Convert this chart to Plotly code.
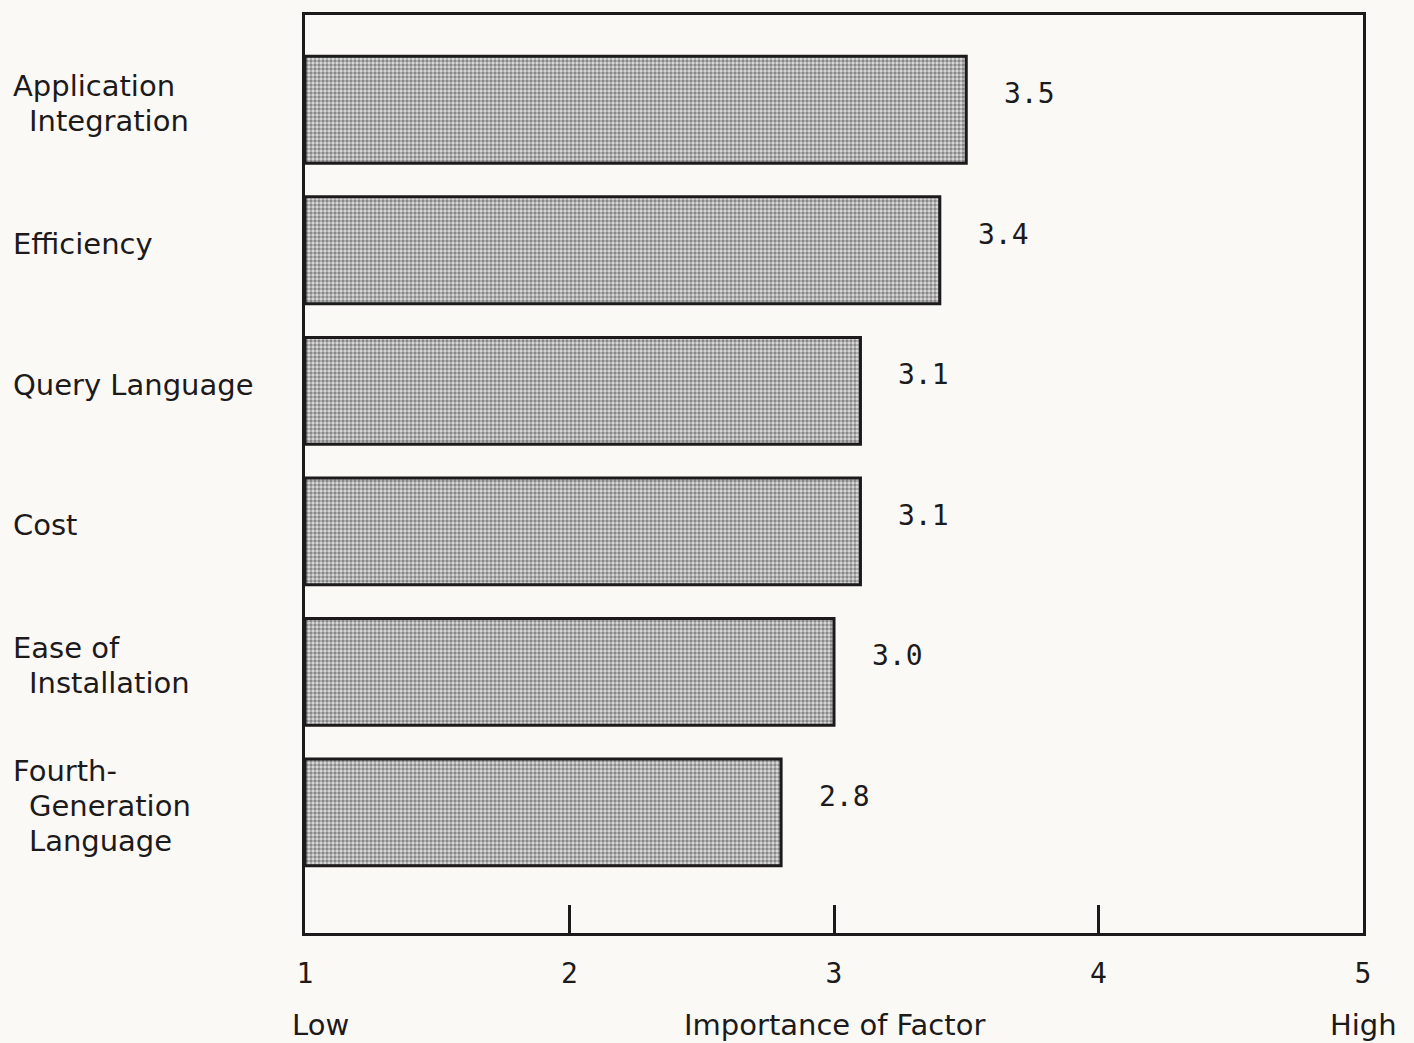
import plotly.graph_objects as go

# Survey results: importance of DBMS selection factors (1 = low, 5 = high)
factors = [
    "Application Integration",
    "Efficiency",
    "Query Language",
    "Cost",
    "Ease of Installation",
    "Fourth-Generation Language",
]
factor_lines = [
    ["Application", "Integration"],
    ["Efficiency"],
    ["Query Language"],
    ["Cost"],
    ["Ease of", "Installation"],
    ["Fourth-", "Generation", "Language"],
]
scores = [3.5, 3.4, 3.1, 3.1, 3.0, 2.8]
value_labels = ["3.5", "3.4", "3.1", "3.1", "3.0", "2.8"]
tick_vals = [1, 2, 3, 4, 5]
tick_text = ["1", "2", "3", "4", "5"]

BG = "#fbf9f6"
INK = "#1c1a1a"
LABEL_FONT = dict(family="DejaVu Sans", size=29, color=INK)
NUM_FONT = dict(family="DejaVu Sans Mono", size=28, color=INK)

fig = go.Figure()

# Bars start at the low end of the scale (1)
fig.add_trace(go.Bar(
    y=factors,
    x=[s - 1 for s in scores],
    base=1,
    orientation="h",
    width=0.76,
    marker=dict(
        color="#bdbdbd",
        line=dict(color=INK, width=3),
        pattern=dict(shape=".", fgcolor="#333333", bgcolor="#dedede",
                     size=4, solidity=0.6),
    ),
    hoverinfo="skip",
    showlegend=False,
))

annotations = []

# Value labels to the right of each bar
for f, s, lab in zip(factors, scores, value_labels):
    annotations.append(dict(
        x=s, y=f, xref="x", yref="y", text=lab, showarrow=False,
        xanchor="left", yanchor="middle", xshift=36, yshift=16,
        font=NUM_FONT,
    ))

# Category labels on the left, continuation lines slightly indented
left_px, indent_px, plot_w, plot_l = 11, 27, 1058, 305
line_gap = 35
for f, lines in zip(factors, factor_lines):
    n = len(lines)
    for i, line in enumerate(lines):
        px = left_px if i == 0 else indent_px
        annotations.append(dict(
            x=(px - plot_l) / plot_w, y=f, xref="paper", yref="y",
            text=line, showarrow=False, xanchor="left", yanchor="middle",
            yshift=((n - 1) / 2 - i) * line_gap + 6,
            font=LABEL_FONT,
        ))

# Scale captions under the axis
for txt, xv in [("Low", 1.06), ("Importance of Factor", 3.0), ("High", 5.0)]:
    annotations.append(dict(
        x=xv, y=0, xref="x", yref="paper", text=txt, showarrow=False,
        xanchor="center", yanchor="middle", yshift=-92,
        font=LABEL_FONT,
    ))

fig.update_layout(
    width=1414,
    height=1043,
    margin=dict(l=305, r=51, t=12, b=110),
    paper_bgcolor=BG,
    plot_bgcolor=BG,
    bargap=0.24,
    annotations=annotations,
    xaxis=dict(
        range=[1, 5],
        tickmode="array",
        tickvals=tick_vals,
        ticktext=tick_text,
        ticks="inside",
        ticklen=28,
        tickwidth=2.5,
        tickcolor=INK,
        ticklabelstandoff=14,
        tickfont=NUM_FONT,
        showgrid=False,
        zeroline=False,
        showline=True,
        linecolor=INK,
        linewidth=2.5,
        mirror=True,
    ),
    yaxis=dict(
        type="category",
        categoryorder="array",
        categoryarray=factors,
        range=[5.858, -0.674],
        showticklabels=False,
        ticks="",
        showgrid=False,
        zeroline=False,
        showline=True,
        linecolor=INK,
        linewidth=2.5,
        mirror=True,
    ),
)

fig.write_html("out.html")
